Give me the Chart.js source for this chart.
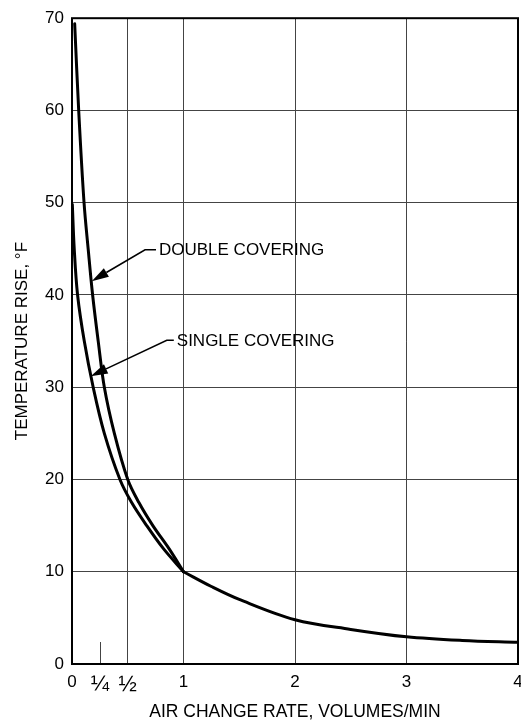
<!DOCTYPE html>
<html>
<head>
<meta charset="utf-8">
<script src="https://cdn.jsdelivr.net/npm/chart.js@4.4.1/dist/chart.umd.min.js"></script>
<style>
  body { margin: 0; background: #fff; }
  #wrap { width: 521px; height: 723px; }
</style>
</head>
<body>
<div id="wrap"><canvas id="chart"></canvas></div>
<script>
// x ticks: 1/4 only gets a short tick mark, no full grid line
const xTicks = [0, 0.25, 0.5, 1, 2, 3, 4];
const xTickLabels = ["0", "¼", "½", "1", "2", "3", "4"];
const yTicks = [0, 10, 20, 30, 40, 50, 60, 70];

// (volumes/min, deg F); both coverings share one curve past 1 vol/min
const singleX = [0.003, 0.02, 0.05, 0.11, 0.19, 0.29, 0.43, 0.535, 0.67, 0.82, 1.0];
const singleY = [49.8, 45, 40, 35, 30, 25, 20, 17.5, 15, 12.5, 10];
const doubleX = [0.024, 0.06, 0.108, 0.145, 0.185, 0.235, 0.29, 0.38, 0.50, 0.60, 0.725, 0.87, 1.0];
const doubleY = [69.4, 60, 50, 45, 40, 35, 30, 25, 20, 17.5, 15, 12.5, 10];
const tailX = [1.0, 1.25, 1.5, 2.0, 2.5, 3.0, 3.5, 4.0];
const tailY = [10, 8.4, 7.0, 4.8, 3.75, 2.95, 2.55, 2.35];

// callouts, in data units: label start, elbow of the leader, arrow tip
const notes = [
  { text: "DOUBLE COVERING", label: [0.78, 44.8], elbow: [0.655, 44.9], tip: [0.177, 41.5] },
  { text: "SINGLE COVERING", label: [0.94, 35.0], elbow: [0.85, 35.1], tip: [0.168, 31.2] },
];

const FONT = "'Liberation Sans', Arial, Helvetica, sans-serif";
Chart.defaults.font.family = FONT;
Chart.defaults.color = "#000";

function toPoints(xs, ys) {
  return xs.map((x, i) => ({ x: x, y: ys[i] }));
}

const framePlugin = {
  id: "frame",
  beforeDatasetsDraw(chart) {
    const { ctx, chartArea: a, scales } = chart;
    ctx.save();
    // short tick at 1/4
    const qx = Math.round(scales.x.getPixelForValue(0.25)) + 0.5;
    ctx.strokeStyle = "#444";
    ctx.lineWidth = 1;
    ctx.beginPath();
    ctx.moveTo(qx, a.bottom);
    ctx.lineTo(qx, a.bottom - 22);
    ctx.stroke();
    ctx.strokeStyle = "#000";
    ctx.lineWidth = 2;
    ctx.strokeRect(a.left, a.top, a.right - a.left, a.bottom - a.top);
    ctx.restore();
  },
  afterDatasetsDraw(chart) {
    const { ctx, scales } = chart;
    const px = (p) => [scales.x.getPixelForValue(p[0]), scales.y.getPixelForValue(p[1])];
    ctx.save();
    notes.forEach((n) => {
      const [lx, ly] = px(n.label);
      const [ex, ey] = px(n.elbow);
      const [tx, ty] = px(n.tip);
      const ang = Math.atan2(ty - ey, tx - ex);
      const L = 17, W = 5;
      const bx = tx - L * Math.cos(ang), by = ty - L * Math.sin(ang);
      ctx.strokeStyle = "#000";
      ctx.lineWidth = 1.6;
      ctx.beginPath();
      ctx.moveTo(lx - 3, ey);
      ctx.lineTo(ex, ey);
      ctx.lineTo(bx, by);
      ctx.stroke();
      ctx.fillStyle = "#000";
      ctx.beginPath();
      ctx.moveTo(tx, ty);
      ctx.lineTo(bx + W * Math.sin(ang), by - W * Math.cos(ang));
      ctx.lineTo(bx - W * Math.sin(ang), by + W * Math.cos(ang));
      ctx.closePath();
      ctx.fill();
      ctx.font = "17px " + FONT;
      ctx.textAlign = "left";
      ctx.textBaseline = "middle";
      ctx.fillText(n.text, lx, ly);
    });
    ctx.restore();
  },
};

const lineStyle = {
  borderColor: "#000",
  borderWidth: 3,
  pointRadius: 0,
  fill: false,
  tension: 0.35,
  borderCapStyle: "round",
};

new Chart(document.getElementById("chart"), {
  type: "line",
  data: {
    datasets: [
      { label: "Single covering", data: toPoints(singleX, singleY), ...lineStyle },
      { label: "Double covering", data: toPoints(doubleX, doubleY), ...lineStyle },
      { label: "Both", data: toPoints(tailX, tailY), ...lineStyle },
    ],
  },
  options: {
    responsive: true,
    maintainAspectRatio: false,
    animation: false,
    layout: { padding: { top: 15, right: 3, left: 0, bottom: 0 } },
    plugins: { legend: { display: false }, tooltip: { enabled: false } },
    scales: {
      x: {
        type: "linear",
        min: 0,
        max: 4,
        afterBuildTicks: (s) => {
          s.ticks = xTicks.map((v) => ({ value: v }));
        },
        afterFit: (s) => {
          s.height = 59;
          s.paddingRight = 0;
        },
        ticks: {
          padding: 8,
          font: (c) => ({ size: c.tick && (c.tick.value === 0.25 || c.tick.value === 0.5) ? 22 : 17 }),
          maxRotation: 0,
          autoSkip: false,
          callback: (v) => xTickLabels[xTicks.indexOf(v)],
        },
        grid: {
          drawTicks: false,
          color: (c) => (c.tick && c.tick.value === 0.25 ? "rgba(0,0,0,0)" : "#444"),
          lineWidth: 1,
        },
        border: { display: false },
        title: {
          display: true,
          text: "AIR CHANGE RATE, VOLUMES/MIN",
          font: { size: 17.5 },
          padding: { top: 0, bottom: 0 },
        },
      },
      y: {
        min: 0,
        max: 70,
        afterBuildTicks: (s) => {
          s.ticks = yTicks.map((v) => ({ value: v }));
        },
        afterFit: (s) => {
          s.width = 72;
        },
        ticks: { padding: 8, font: { size: 17 } },
        grid: { drawTicks: false, color: "#444", lineWidth: 1 },
        border: { display: false },
        title: {
          display: true,
          text: "TEMPERATURE RISE, °F",
          font: { size: 17 },
          padding: { top: 12, bottom: 0 },
        },
      },
    },
  },
  plugins: [framePlugin],
});
</script>
</body>
</html>
